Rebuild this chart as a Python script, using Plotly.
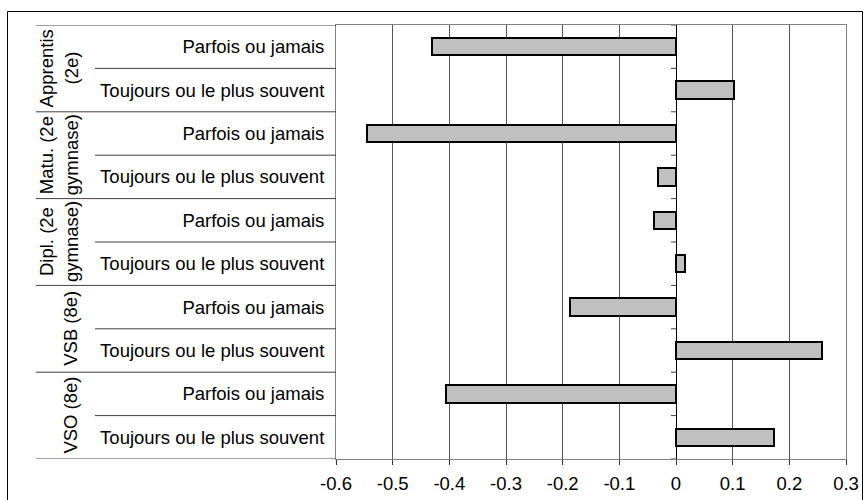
import plotly.graph_objects as go

# ---- data ----
groups = ["Apprentis (2e)", "Matu. (2e gymnase)", "Dipl. (2e gymnase)", "VSB (8e)", "VSO (8e)"]
group_label_lines = [["Apprentis", "(2e)"], ["Matu. (2e", "gymnase)"], ["Dipl. (2e", "gymnase)"],
                     ["VSB (8e)"], ["VSO (8e)"]]
subcategories = ["Parfois ou jamais", "Toujours ou le plus souvent"]
values_parfois = [-0.430, -0.545, -0.038, -0.187, -0.406]
values_toujours = [0.102, -0.032, 0.016, 0.258, 0.173]
x_tick_values = [-0.6, -0.5, -0.4, -0.3, -0.2, -0.1, 0.0, 0.1, 0.2, 0.3]
x_tick_labels = ["-0.6", "-0.5", "-0.4", "-0.3", "-0.2", "-0.1", "0", "0.1", "0.2", "0.3"]

# ---- derived rows ----
row_labels = []
row_values = []
for gi, g in enumerate(groups):
    row_labels += subcategories
    row_values += [values_parfois[gi], values_toujours[gi]]
row_pos = list(range(len(row_labels)))

W, H = 863, 500
L, R, T, B = 336, 17, 25, 41
pw = W - L - R
ph = H - T - B

def px_to_paper_x(px):
    return (px - L) / pw

def px_to_paper_y(py):
    return 1 - (py - T) / ph

FONT = "Liberation Sans, Arial, sans-serif"
FS = 18.5

fig = go.Figure()
fig.add_trace(go.Bar(
    x=row_values, y=row_pos, orientation="h", width=0.40,
    marker=dict(color="#C0C0C0", line=dict(color="black", width=2)),
    hoverinfo="skip", showlegend=False,
))

shapes = []
# divider lines in category label area
n = len(row_labels)
for k in range(n + 1):
    x0px = 95 if k % 2 == 1 else 36
    shapes.append(dict(type="line", xref="paper", yref="y",
                       x0=px_to_paper_x(x0px), x1=0, y0=k - 0.5, y1=k - 0.5,
                       line=dict(color="#404040", width=1)))
# small ticks on the zero axis at category boundaries
for k in range(n + 1):
    shapes.append(dict(type="line", xref="x", yref="y",
                       x0=-5 / (pw / 0.9), x1=0, y0=k - 0.5, y1=k - 0.5,
                       line=dict(color="#404040", width=1)))
# outer chart border
shapes.append(dict(type="rect", xref="paper", yref="paper",
                   x0=px_to_paper_x(7.5), x1=px_to_paper_x(862.5),
                   y0=px_to_paper_y(510), y1=px_to_paper_y(11.5),
                   line=dict(color="black", width=1), fillcolor="rgba(0,0,0,0)", layer="below"))

annotations = []
for gi, lines in enumerate(group_label_lines):
    xs = [46, 71] if len(lines) == 2 else [71]
    for txt, xp in zip(lines, xs):
        annotations.append(dict(
            text=txt, xref="paper", yref="y", x=px_to_paper_x(xp), y=2 * gi + 0.5,
            textangle=-90, showarrow=False, xanchor="center", yanchor="middle",
            font=dict(family=FONT, size=FS, color="black")))

fig.update_layout(
    width=W, height=H,
    margin=dict(l=L, r=R, t=T, b=B, pad=0, autoexpand=False),
    paper_bgcolor="white", plot_bgcolor="white",
    font=dict(family=FONT, size=FS, color="black"),
    bargap=0,
    shapes=shapes,
    annotations=annotations,
    xaxis=dict(
        range=[-0.6, 0.3], tickvals=x_tick_values, ticktext=x_tick_labels,
        showgrid=True, gridcolor="#555555", gridwidth=1,
        zeroline=True, zerolinecolor="black", zerolinewidth=1,
        showline=True, linecolor="#808080", linewidth=1, mirror=True,
        ticks="outside", ticklen=5, tickcolor="#333333",
        ticklabelstandoff=3, automargin=False,
        tickfont=dict(family=FONT, size=FS, color="black"),
        fixedrange=True,
    ),
    yaxis=dict(
        range=[n - 0.5, -0.5], tickvals=row_pos, ticktext=row_labels,
        showgrid=False, zeroline=False,
        showline=True, linecolor="#808080", linewidth=1, mirror=True,
        ticks="", ticklabelstandoff=7, automargin=False,
        tickfont=dict(family=FONT, size=FS, color="black"),
        fixedrange=True,
    ),
)

fig.write_html("out.html")
